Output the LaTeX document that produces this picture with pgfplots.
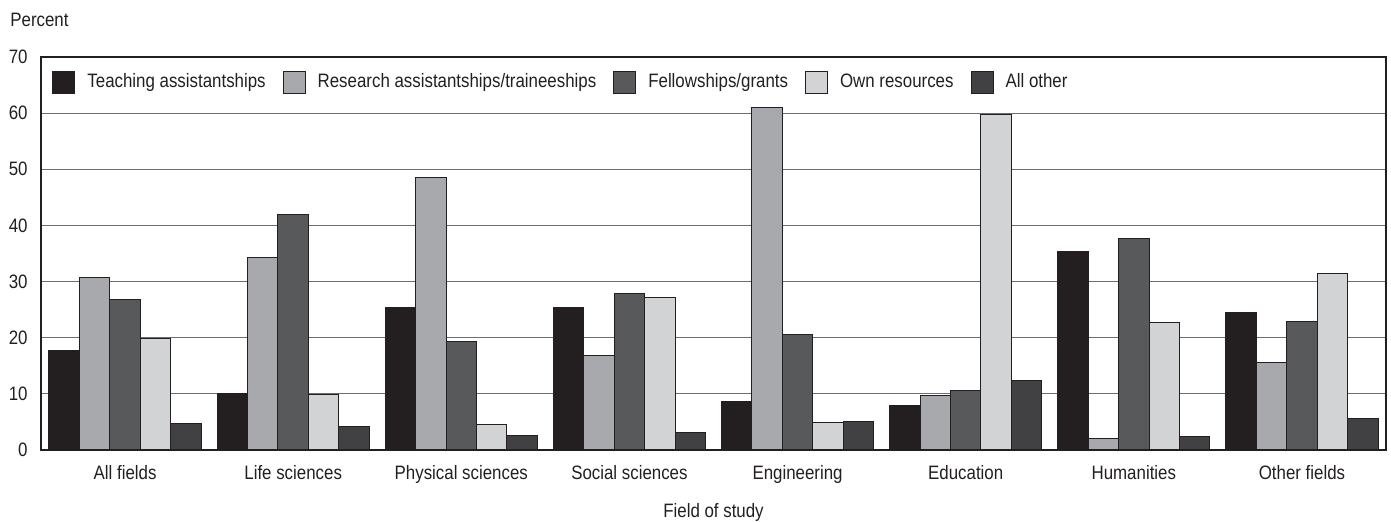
\documentclass[border=0pt]{standalone}
\usepackage{fontspec}
\setmainfont{Liberation Sans}[FakeStretch=0.87]
\usepackage{pgfplots}
\pgfplotsset{compat=1.18}
\definecolor{cTeach}{HTML}{231F20}
\definecolor{cRes}{HTML}{A7A9AC}
\definecolor{cFel}{HTML}{58595B}
\definecolor{cOwn}{HTML}{D1D3D4}
\definecolor{cOth}{HTML}{414042}
\definecolor{cGrid}{HTML}{6D6E71}
\definecolor{cTxt}{HTML}{231F20}
\begin{document}
\fontsize{9.7}{11.6}\selectfont
\begin{tikzpicture}
\begin{axis}[
  scale only axis,
  width=672.5pt, height=196.5pt,
  xmin=-0.5, xmax=7.5,
  ymin=0, ymax=70,
  ytick={0,10,...,70},
  xtick={0,...,7},
  xticklabels={All fields, Life sciences, Physical sciences, Social sciences, Engineering, Education, Humanities, Other fields},
  major tick length=0pt,
  ymajorgrids,
  grid style={cGrid, line width=0.6pt},
  axis line style={cTxt, line width=0.6pt},
  /pgf/number format/assume math mode=true,
  ticklabel style={font=\fontsize{9.7}{11.6}\selectfont, text=cTxt},
  yticklabel style={inner sep=0pt, xshift=-6.5pt},
  xticklabel style={inner sep=0pt, anchor=north, yshift=-7.5pt},
  xlabel={Field of study},
  xlabel style={at={(axis description cs:0.5,0)}, anchor=north, yshift=-26.5pt, inner sep=0pt, font=\fontsize{9.7}{11.6}\selectfont, text=cTxt},
  ylabel={Percent},
  ylabel style={rotate=-90, at={(axis description cs:0,1)}, anchor=base west, xshift=-15.5pt, yshift=15.5pt, inner sep=0pt, font=\fontsize{9.7}{11.6}\selectfont, text=cTxt},
  ybar=0pt,
  bar width=0.181,
  legend columns=5,
  legend style={draw=none, fill=none, inner sep=0pt,
    at={(axis description cs:0.0082,0.936)}, anchor=west,
    font=\fontsize{9.7}{11.6}\selectfont, text=cTxt,
    nodes={inner sep=0pt},
    /tikz/every odd column/.append style={column sep=6pt},
    /tikz/every even column/.append style={column sep=8.5pt}},
  legend image code/.code={\draw[#1] (0pt,-5.5pt) rectangle (11pt,5.5pt);},
  every axis plot/.append style={draw=cTxt, line width=0.5pt},
]
\addplot[fill=cTeach, bar shift=-0.362] coordinates {(0,17.8) (1,10.0) (2,25.4) (3,25.4) (4,8.7) (5,8.0) (6,35.3) (7,24.5)};
\addplot[fill=cRes, bar shift=-0.181] coordinates {(0,30.8) (1,34.3) (2,48.5) (3,16.8) (4,61.0) (5,9.7) (6,2.0) (7,15.6)};
\addplot[fill=cFel, bar shift=0] coordinates {(0,26.8) (1,41.9) (2,19.4) (3,27.9) (4,20.6) (5,10.6) (6,37.7) (7,22.9)};
\addplot[fill=cOwn, bar shift=0.181] coordinates {(0,19.8) (1,9.8) (2,4.5) (3,27.1) (4,4.9) (5,59.7) (6,22.8) (7,31.4)};
\addplot[fill=cOth, bar shift=0.362] coordinates {(0,4.8) (1,4.2) (2,2.6) (3,3.2) (4,5.1) (5,12.4) (6,2.4) (7,5.6)};
\legend{Teaching assistantships, Research assistantships/traineeships, Fellowships/grants, Own resources, All other}
\draw[cTxt, line width=1pt] (rel axis cs:0,0) -- (rel axis cs:1,0);
\end{axis}
\pgfresetboundingbox
\path[use as bounding box] (-20.5pt,-35.5pt) rectangle (675pt,225pt);
\end{tikzpicture}
\end{document}
